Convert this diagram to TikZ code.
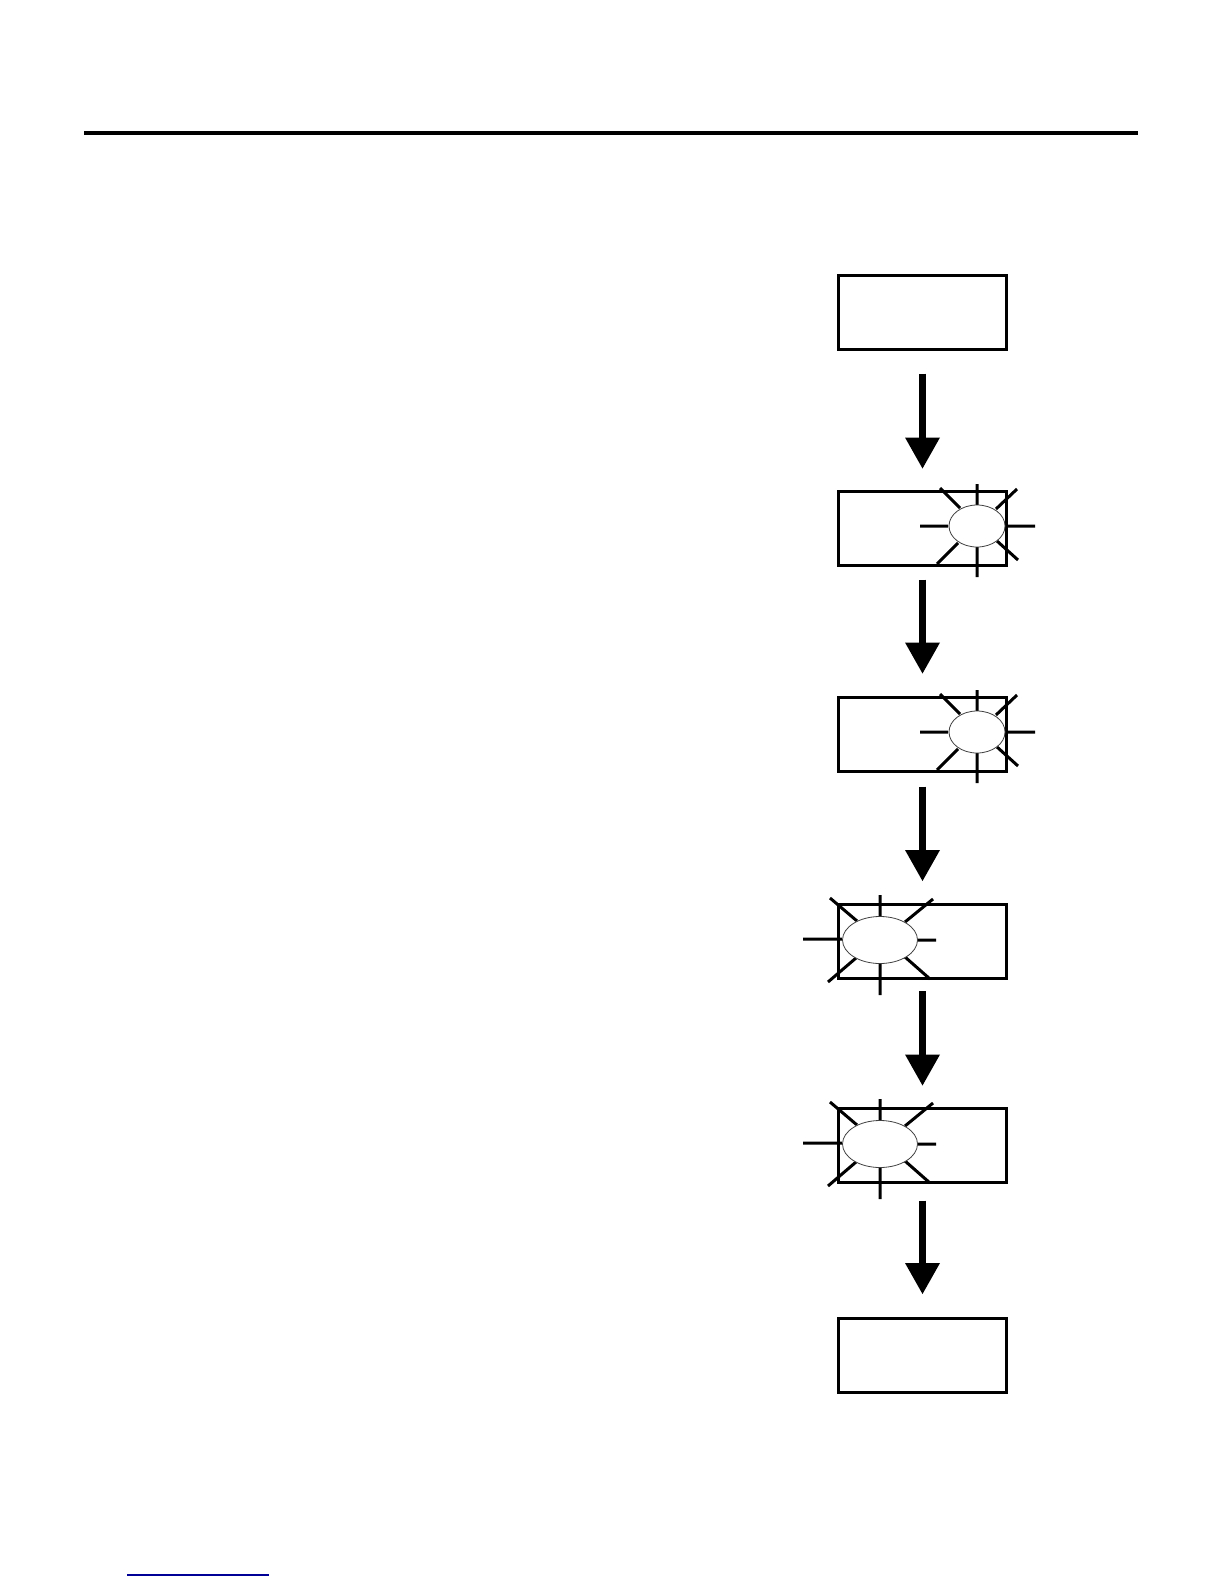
\documentclass[tikz,border=0pt]{standalone}
\usetikzlibrary{arrows.meta}
\begin{document}
\begin{tikzpicture}[x=1pt,y=-1pt,
  screen/.style={draw=black,line width=3pt,minimum width=168pt,minimum height=74pt,inner sep=0pt,fill=white},
  flow/.style={line width=7pt,-{Triangle[width=35pt,length=31pt,line width=0pt]}},
  ray/.style={line width=3pt},
  blink/.style={draw=black!75,line width=0.8pt,fill=white}]
\useasboundingbox (0,0) rectangle (1224,1584);
\draw[line width=4pt] (84,133) -- (1138,133);
% screens
\node[screen] (b1) at (922.5,312) {};
\node[screen] (b2) at (922.5,528) {};
\node[screen] (b3) at (922.5,734) {};
\node[screen] (b4) at (922.5,941.5) {};
\node[screen] (b5) at (922.5,1145) {};
\node[screen] (b6) at (922.5,1355.5) {};
% arrows
\draw[flow] ([yshift=-23pt]b1.south) -- ([yshift=21pt]b2.north);
\draw[flow] ([yshift=-13pt]b2.south) -- ([yshift=22pt]b3.north);
\draw[flow] ([yshift=-14pt]b3.south) -- ([yshift=22pt]b4.north);
\draw[flow] ([yshift=-11pt]b4.south) -- ([yshift=21pt]b5.north);
\draw[flow] ([yshift=-17pt]b5.south) -- ([yshift=23pt]b6.north);
% right-hand blinking bursts
\foreach \cy in {526,732}{
 \begin{scope}[shift={(977,\cy)}]
  \draw[ray] (-57,0)--(-29,0) (28,0)--(58,0) (0,-42)--(0,-21) (0,21)--(0,51)
    (-37,-38)--(-17,-18) (19,-17)--(40,-37) (-19,17)--(-40,38) (20,15)--(41,34);
  \draw[blink] (0,0) ellipse [x radius=28, y radius=21];
 \end{scope}}
% left-hand blinking bursts
\foreach \cy in {940,1144}{
 \begin{scope}[shift={(880,\cy)}]
  \draw[ray] (-77,-1)--(-38,-1) (37,0)--(56,0) (0,-45)--(0,-24) (0,23)--(0,55)
    (-50,-42)--(-23,-19) (25,-18)--(53,-41) (-24,18)--(-52,42) (25,17)--(50,39);
  \draw[blink] (0,0) ellipse [x radius=37.5, y radius=23.5];
 \end{scope}}
\draw[line width=1.2pt,color={rgb,255:red,0;green,0;blue,150}] (127,1575) -- (269,1575);
\end{tikzpicture}
\end{document}
